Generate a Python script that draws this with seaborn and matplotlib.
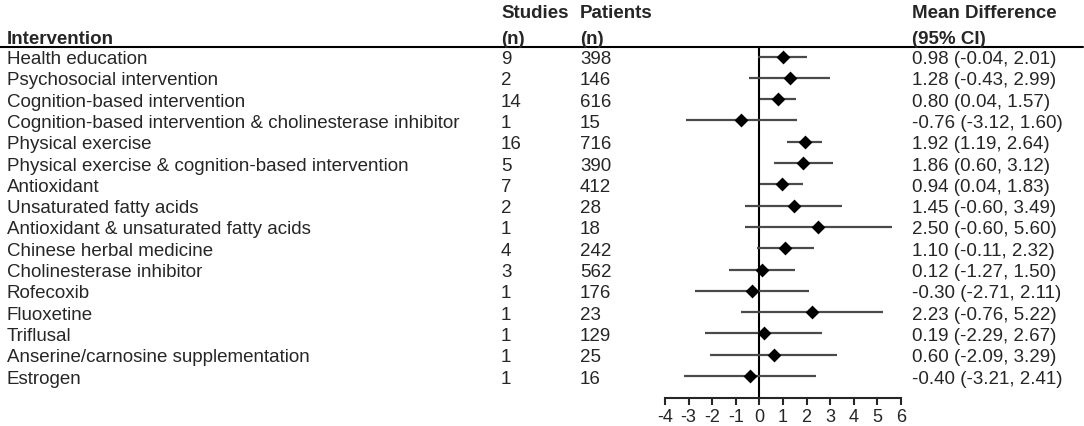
import numpy as np
import pandas as pd
import matplotlib
matplotlib.use("Agg")
import matplotlib.pyplot as plt
import matplotlib.transforms as mtransforms
import seaborn as sns

interventions = [
    "Health education",
    "Psychosocial intervention",
    "Cognition-based intervention",
    "Cognition-based intervention & cholinesterase inhibitor",
    "Physical exercise",
    "Physical exercise & cognition-based intervention",
    "Antioxidant",
    "Unsaturated fatty acids",
    "Antioxidant & unsaturated fatty acids",
    "Chinese herbal medicine",
    "Cholinesterase inhibitor",
    "Rofecoxib",
    "Fluoxetine",
    "Triflusal",
    "Anserine/carnosine supplementation",
    "Estrogen",
]
studies = [9, 2, 14, 1, 16, 5, 7, 2, 1, 4, 3, 1, 1, 1, 1, 1]
patients = [398, 146, 616, 15, 716, 390, 412, 28, 18, 242, 562, 176, 23, 129, 25, 16]
md = [0.98, 1.28, 0.80, -0.76, 1.92, 1.86, 0.94, 1.45, 2.50, 1.10, 0.12, -0.30, 2.23, 0.19, 0.60, -0.40]
lo = [-0.04, -0.43, 0.04, -3.12, 1.19, 0.60, 0.04, -0.60, -0.60, -0.11, -1.27, -2.71, -0.76, -2.29, -2.09, -3.21]
hi = [2.01, 2.99, 1.57, 1.60, 2.64, 3.12, 1.83, 3.49, 5.60, 2.32, 1.50, 2.11, 5.22, 2.67, 3.29, 2.41]
xticks = [-4, -3, -2, -1, 0, 1, 2, 3, 4, 5, 6]

df = pd.DataFrame({"label": interventions, "studies": studies, "patients": patients,
                   "md": md, "lo": lo, "hi": hi})
df["row"] = np.arange(len(df))

sns.set_style("white")
plt.rcParams['font.family'] = ['Liberation Sans', 'DejaVu Sans']
plt.rcParams['axes.unicode_minus'] = False

W, H = 1084, 427
fig = plt.figure(figsize=(W / 100, H / 100), dpi=100)
ax = fig.add_axes([665 / W, 1 - 399 / H, 236 / W, (399 - 48) / H])
ax.patch.set_alpha(0)

# CI lines + point estimates
ax.hlines(df["row"], df["lo"], df["hi"], color="#4a4a4a", linewidth=1.6, zorder=2)
sns.scatterplot(data=df, x="md", y="row", marker="D", color="black", s=50,
                linewidth=0, legend=False, ax=ax, zorder=3)
ax.axvline(0, color="black", linewidth=1.5, zorder=1)

ax.set_xlim(-4, 6)
ax.set_ylim(16.03, -0.446)
ax.set_xticks(xticks)
ax.set_xticklabels([str(t) for t in xticks], fontsize=13)
ax.set_yticks([])
ax.set_xlabel("")
ax.set_ylabel("")
for s in ["top", "left", "right"]:
    ax.spines[s].set_visible(False)
ax.spines["bottom"].set_linewidth(1.5)
ax.spines["bottom"].set_bounds(-4, 6)
ax.tick_params(axis="x", direction="out", length=5, width=1.5, pad=2, bottom=True)

# text columns
tr = mtransforms.blended_transform_factory(fig.transFigure, ax.transData)
fs = 13.5
va = "center_baseline"
col_label, col_studies, col_patients, col_md = 7 / W, 501 / W, 580 / W, 912 / W
for _, r in df.iterrows():
    y = r["row"]
    ax.text(col_label, y, r["label"], transform=tr, va=va, ha="left", fontsize=fs, clip_on=False)
    ax.text(col_studies, y, str(r["studies"]), transform=tr, va=va, ha="left", fontsize=fs, clip_on=False)
    ax.text(col_patients, y, str(r["patients"]), transform=tr, va=va, ha="left", fontsize=fs, clip_on=False)
    ax.text(col_md, y, f"{r['md']:.2f} ({r['lo']:.2f}, {r['hi']:.2f})", transform=tr,
            va=va, ha="left", fontsize=fs, clip_on=False)

# header
y1, y2 = 1 - 11 / H, 1 - 38 / H
fig.text(col_label, y2, "Intervention", fontsize=fs, weight="bold", va=va)
fig.text(col_studies, y1, "Studies", fontsize=fs, weight="bold", va=va)
fig.text(col_studies, y2, "(n)", fontsize=fs, weight="bold", va=va)
fig.text(col_patients, y1, "Patients", fontsize=fs, weight="bold", va=va)
fig.text(col_patients, y2, "(n)", fontsize=fs, weight="bold", va=va)
fig.text(col_md, y1, "Mean Difference", fontsize=fs, weight="bold", va=va)
fig.text(col_md, y2, "(95% CI)", fontsize=fs, weight="bold", va=va)
fig.add_artist(plt.Line2D([0, 1083 / W], [1 - 48 / H, 1 - 48 / H], color="black",
                          linewidth=1.5, transform=fig.transFigure))

fig.savefig("out.png", dpi=100)
